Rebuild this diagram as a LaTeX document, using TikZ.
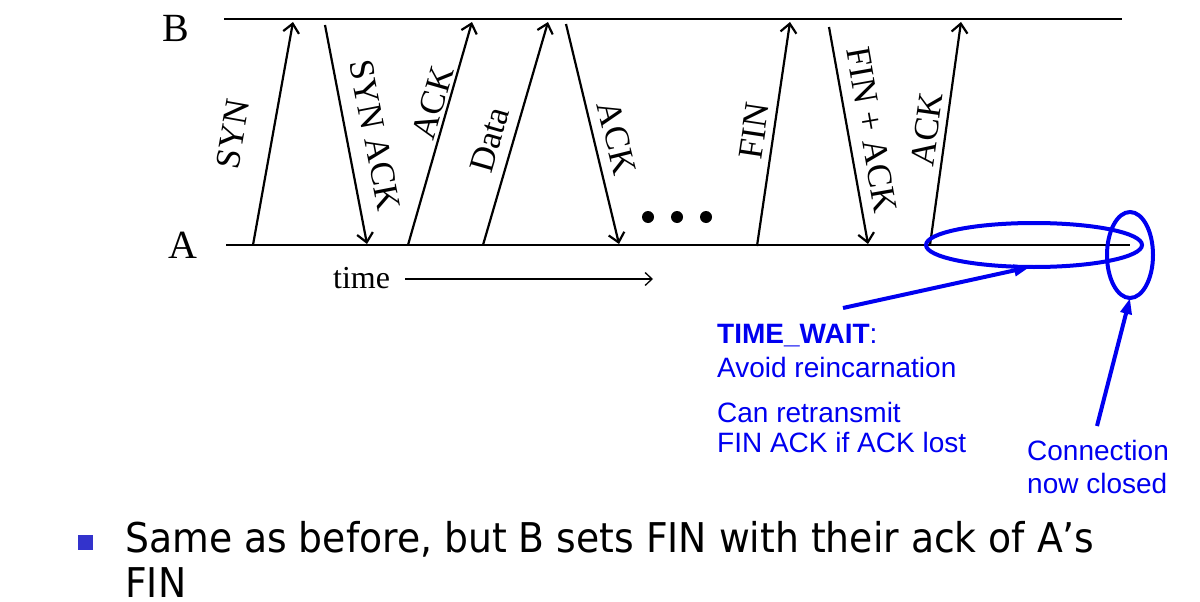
\documentclass[tikz,border=0pt]{standalone}
\usepackage{fontspec}
\usepackage{graphicx}
\setmainfont{Liberation Serif}
\setsansfont{Liberation Sans}
\newfontfamily\bulletfont{DejaVu Sans}
\usetikzlibrary{arrows.meta,shapes.geometric}
\definecolor{tblue}{RGB}{0,0,240}
\definecolor{bulblue}{RGB}{51,51,204}
\begin{document}
\begin{tikzpicture}[x=1pt,y=-1pt,
  axis/.style={line width=1.3pt},
  msg/.style={line width=2.2pt,-{Straight Barb[length=9pt,width=16pt]}},
  lbl/.style={font=\fontsize{35}{35}\selectfont, inner sep=0pt},
  side/.style={font=\fontsize{40}{40}\selectfont, inner sep=0pt},
  dot/.style={circle, fill=black, minimum size=12pt, inner sep=0pt},
  ring/.style={ellipse, draw=tblue, line width=4pt, inner sep=0pt, outer sep=0pt},
  bl/.style={tblue, line width=4pt, -{Triangle[length=16pt,width=11pt]}},
  bltxt/.style={tblue, font=\sffamily\fontsize{28}{28}\selectfont, inner sep=0pt, anchor=base west},
  bottxt/.style={anchor=base west, inner sep=0pt, font=\bulletfont\fontsize{41}{41}\selectfont}]
\useasboundingbox (0,0) rectangle (1200,602);
% hosts
\node[side] (B) at (176,28) {B};
\node[side] (A) at (183,245) {A};
\coordinate (b0) at (224,19); \coordinate (b1) at (1122,19);
\coordinate (a0) at (226,245); \coordinate (a1) at (1130,245);
\draw[axis] (b0) -- (b1);
\draw[axis] (a0) -- (a1);
% message end points
\coordinate (syn0) at (253,245);  \coordinate (syn1) at (293,22);
\coordinate (sa0) at (325,25);    \coordinate (sa1) at (367,244);
\coordinate (ack0) at (408,245);  \coordinate (ack1) at (472,22);
\coordinate (dat0) at (483,245);  \coordinate (dat1) at (548,22);
\coordinate (ak0) at (566,24);    \coordinate (ak1) at (619,244);
\coordinate (fin0) at (757,246);  \coordinate (fin1) at (790,22);
\coordinate (fa0) at (829,27);    \coordinate (fa1) at (868,244);
\coordinate (la0) at (930,245);   \coordinate (la1) at (961,22);
\draw[msg] (syn0) -- (syn1);
\draw[msg] (sa0) -- (sa1);
\draw[msg] (ack0) -- (ack1);
\draw[msg] (dat0) -- (dat1);
\draw[msg] (ak0) -- (ak1);
\draw[msg] (fin0) -- (fin1);
\draw[msg] (fa0) -- (fa1);
\draw[msg] (la0) -- (la1);
% labels
\node[lbl, rotate=80]  (lsyn) at (233,134) {SYN};
\node[lbl, rotate=-79] (lsa)  at (375,135) {SYN ACK};
\node[lbl, rotate=74]  (lack) at (433,103) {ACK};
\node[lbl, rotate=74]  (ldat) at (490,140) {Data};
\node[lbl, rotate=-76] (lak)  at (617,138) {ACK};
\node[lbl, rotate=81.5] (lfin) at (754,131) {FIN};
\node[lbl, rotate=-80] (lfa)  at (872,130) {FIN + ACK};
\node[lbl, rotate=82]  (lla)  at (927,129) {ACK};
% dots
\node[dot] (d1) at (648,217) {};
\node[dot] (d2) at (677,217) {};
\node[dot] (d3) at (706,217) {};
% time
\node[font=\fontsize{32}{32}\selectfont, inner sep=0pt, anchor=base west] (time) at (333,288) {time};
\coordinate (t0) at (405,279); \coordinate (t1) at (653,279);
\draw[line width=1.3pt, -{Straight Barb[length=7pt,width=13pt]}] (t0) -- (t1);
% blue annotations
\node[ring, minimum width=216pt, minimum height=44pt] (tw) at (1034,245) {};
\node[ring, minimum width=46pt, minimum height=86pt] (cc) at (1130,255) {};
\coordinate (twsrc) at (843,308);
\coordinate (ccsrc) at (1097,426);
\draw[bl] (twsrc) -- ([xshift=-4pt]tw.south);
\draw[bl] (ccsrc) -- (cc.south);
\node[bltxt] (tw1) at (717,343) {\textbf{TIME\_WAIT}:};
\node[bltxt] (tw2) at (717,377) {Avoid reincarnation};
\node[bltxt] (tw3) at (717,422) {Can retransmit};
\node[bltxt] (tw4) at (717,452) {FIN ACK if ACK lost};
\node[bltxt] (cc1) at (1027,460) {Connection};
\node[bltxt] (cc2) at (1027,493) {now closed};
% bullet
\node[fill=bulblue, minimum width=15pt, minimum height=15pt, inner sep=0pt] (bul) at (85,542) {};
\node[bottxt] (bt1) at (125,552) {\scalebox{0.92}[1]{Same as before, but B sets FIN with their ack of A’s}};
\node[bottxt] (bt2) at (125,597) {\scalebox{0.92}[1]{FIN}};
\end{tikzpicture}
\end{document}
